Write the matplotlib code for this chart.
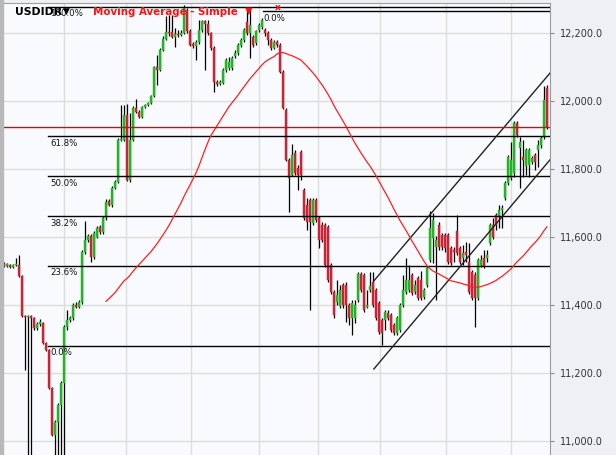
import matplotlib.pyplot as plt
import pandas as pd
from matplotlib.patches import Rectangle

# daily USD/IDR candles (oldest first)
opens = [11521, 11515, 11518, 11512, 11518, 11518, 11485, 11368, 11365, 11368,
         11362, 11332, 11344, 11347, 11288, 11268, 11156, 11018, 11056, 11106,
         11171, 11335, 11356, 11362, 11400, 11394, 11409, 11556, 11591, 11603,
         11541, 11600, 11629, 11615, 11656, 11706, 11694, 11744, 11762, 11885,
         11885, 11959, 11768, 11885, 11979, 11968, 11953, 11982, 11988, 11994,
         12015, 12100, 12091, 12150, 12182, 12203, 12203, 12188, 12197, 12194,
         12200, 12268, 12206, 12168, 12162, 12173, 12209, 12235, 12226, 12200,
         12156, 12056, 12050, 12053, 12091, 12097, 12097, 12132, 12141, 12165,
         12179, 12232, 12200, 12188, 12171, 12209, 12218, 12209, 12200, 12179,
         12156, 12173, 12165, 12085, 11973, 11827, 11782, 11847, 11803, 11850,
         11738, 11694, 11709, 11641, 11709, 11656, 11635, 11635, 11629, 11518,
         11438, 11409, 11397, 11459, 11459, 11400, 11362, 11362, 11415, 11491,
         11488, 11394, 11444, 11468, 11444, 11406, 11356, 11356, 11376, 11370,
         11341, 11318, 11326, 11400, 11438, 11444, 11488, 11438, 11479, 11474,
         11424, 11459, 11532, 11597, 11571, 11635, 11606, 11606, 11606, 11568,
         11562, 11618, 11568, 11538, 11556, 11526, 11497, 11488, 11421, 11518,
         11538, 11538, 11582, 11635, 11665, 11659, 11679, 11715, 11759, 11774,
         11788, 11935, 11862, 11835, 11809, 11812, 11821, 11841, 11856, 11871,
         11894, 12038]
highs = [11526, 11524, 11521, 11521, 11538, 11547, 11488, 11370, 11370, 11370,
         11365, 11350, 11359, 11350, 11291, 11271, 11159, 11062, 11112, 11176,
         11341, 11385, 11368, 11406, 11409, 11415, 11562, 11647, 11609, 11609,
         11618, 11632, 11635, 11662, 11712, 11712, 11750, 11768, 11891, 11988,
         11988, 11991, 11965, 11985, 12006, 11973, 11985, 11991, 11997, 12018,
         12103, 12135, 12156, 12191, 12250, 12253, 12253, 12215, 12209, 12209,
         12282, 12273, 12212, 12173, 12179, 12238, 12238, 12238, 12238, 12203,
         12162, 12062, 12062, 12097, 12126, 12129, 12132, 12150, 12171, 12185,
         12215, 12268, 12268, 12194, 12209, 12229, 12244, 12215, 12206, 12185,
         12179, 12179, 12171, 12091, 11979, 11832, 11874, 11856, 11812, 11856,
         11744, 11715, 11715, 11715, 11715, 11662, 11644, 11641, 11635, 11524,
         11444, 11474, 11459, 11465, 11468, 11406, 11415, 11415, 11497, 11497,
         11494, 11444, 11497, 11497, 11450, 11412, 11362, 11385, 11385, 11376,
         11347, 11368, 11406, 11488, 11538, 11518, 11494, 11474, 11485, 11500,
         11450, 11515, 11676, 11671, 11603, 11644, 11612, 11612, 11612, 11574,
         11571, 11665, 11574, 11576, 11585, 11582, 11503, 11497, 11538, 11547,
         11562, 11562, 11641, 11656, 11671, 11694, 11694, 11765, 11841, 11879,
         11941, 11941, 11894, 11885, 11862, 11862, 11838, 11847, 11885, 11897,
         12044, 12047]
lows = [11512, 11512, 11509, 11509, 11515, 11482, 11365, 11209, 10915, 10915,
        11326, 11326, 11338, 11285, 11265, 11153, 11015, 10915, 10915, 10915,
        10915, 11326, 11350, 11356, 11391, 11391, 11403, 11550, 11585, 11526,
        11535, 11597, 11609, 11609, 11650, 11691, 11688, 11741, 11759, 11882,
        11882, 11765, 11762, 11882, 11965, 11950, 11950, 11979, 11985, 11991,
        12012, 12047, 12088, 12147, 12179, 12191, 12185, 12159, 12188, 12191,
        12197, 12200, 12162, 12156, 12121, 12168, 12203, 12091, 12194, 12150,
        12026, 12044, 12047, 12050, 12085, 12091, 12091, 12126, 12135, 12159,
        12173, 12194, 12126, 12159, 12165, 12203, 12212, 12191, 12165, 12150,
        12153, 12159, 12082, 11976, 11824, 11674, 11779, 11782, 11738, 11768,
        11650, 11621, 11385, 11635, 11644, 11568, 11585, 11512, 11468, 11432,
        11362, 11400, 11391, 11391, 11350, 11341, 11312, 11347, 11409, 11438,
        11379, 11391, 11438, 11394, 11356, 11315, 11282, 11326, 11356, 11321,
        11312, 11312, 11321, 11394, 11432, 11438, 11429, 11432, 11415, 11415,
        11418, 11453, 11526, 11524, 11415, 11562, 11562, 11556, 11521, 11518,
        11526, 11547, 11521, 11518, 11526, 11432, 11415, 11335, 11415, 11512,
        11509, 11526, 11576, 11594, 11621, 11626, 11626, 11709, 11753, 11768,
        11776, 11894, 11744, 11776, 11782, 11776, 11815, 11797, 11806, 11862,
        11888, 11918]
closes = [11515, 11521, 11512, 11518, 11521, 11485, 11368, 11365, 11368, 11362,
          11332, 11344, 11350, 11288, 11268, 11156, 11018, 11056, 11106, 11171,
          11335, 11356, 11362, 11400, 11394, 11409, 11556, 11591, 11603, 11541,
          11612, 11626, 11615, 11656, 11703, 11694, 11744, 11762, 11885, 11888,
          11959, 11768, 11885, 11979, 11968, 11953, 11982, 11988, 11994, 12015,
          12100, 12091, 12150, 12182, 12203, 12200, 12188, 12197, 12194, 12200,
          12273, 12206, 12165, 12162, 12173, 12209, 12235, 12226, 12200, 12156,
          12056, 12050, 12056, 12091, 12121, 12115, 12126, 12141, 12165, 12179,
          12209, 12200, 12223, 12165, 12206, 12223, 12238, 12200, 12179, 12156,
          12173, 12165, 12085, 11979, 11827, 11774, 11841, 11788, 11782, 11782,
          11656, 11644, 11644, 11709, 11650, 11591, 11591, 11518, 11474, 11438,
          11370, 11429, 11444, 11400, 11400, 11362, 11406, 11400, 11491, 11444,
          11385, 11400, 11456, 11400, 11362, 11321, 11318, 11379, 11362, 11326,
          11318, 11362, 11400, 11444, 11474, 11474, 11435, 11459, 11421, 11421,
          11444, 11509, 11626, 11650, 11591, 11571, 11571, 11568, 11526, 11524,
          11556, 11553, 11526, 11553, 11547, 11438, 11421, 11421, 11532, 11532,
          11515, 11547, 11635, 11600, 11635, 11679, 11685, 11759, 11835, 11827,
          11935, 11900, 11879, 11827, 11856, 11856, 11832, 11821, 11871, 11891,
          12003, 11923]

# simple moving average settings (50 days, line shown from day 35)
ma_period = 50
ma_min_periods = 35

# trend channel
chan_idx = [123.3, 182]
chan_upper = [11471, 12082]
chan_lower = [11212, 11827]

# fibonacci retracement
fib_low, fib_high = 11280, 12276
fib_pcts = [0.0, 23.6, 38.2, 50.0, 61.8, 100.0]
fib_start = 14.7
fib2_level, fib2_start = 12265, 86.3

last_price = 11923
yticks = [11000, 11200, 11400, 11600, 11800, 12000, 12200]
grid_idx = [20, 40.7, 62.3, 85, 104.7, 125.3, 147.3, 169]

W, H = 616, 455
fig = plt.figure(figsize=(W / 100, H / 100), dpi=100, facecolor='#eef0f4')
ax = fig.add_axes([3 / W, 0, 547 / W, 452 / H])
ax.set_facecolor('#f8fafd')

n = len(closes)
idx = list(range(n))
green, red = '#22b522', '#cc2233'
cols = [green if c >= o else red for o, c in zip(opens, closes)]
bottoms = [min(o, c) for o, c in zip(opens, closes)]
heights = [max(abs(c - o), 3) for o, c in zip(opens, closes)]

ax.set_xlim(-0.33, 182)
ax.set_ylim(10959, 12288)

for g in grid_idx:
    ax.axvline(g, color='#dddddd', lw=1, zorder=0)
for t in yticks:
    ax.axhline(t, color='#dddddd', lw=1, zorder=0)

ax.vlines(idx, lows, highs, color='black', lw=0.9, zorder=2)
ax.bar(idx, heights, bottom=bottoms, width=0.72, color=cols, edgecolor=cols,
       lw=0.3, zorder=3)

# fib lines + labels
for p in fib_pcts:
    lvl = fib_low + (fib_high - fib_low) * p / 100
    ax.plot([fib_start, 182], [lvl, lvl], color='black', lw=1, zorder=4)
    ax.text(fib_start + 0.8, lvl - 7, f'{p:.1f}%', fontsize=6.2, va='top',
            ha='left', color='#111111', zorder=5)
ax.plot([fib2_start, 182], [fib2_level, fib2_level], color='black', lw=1, zorder=4)
ax.text(fib2_start + 0.3, fib2_level - 9, '0.0%', fontsize=6.2, va='top',
        ha='left', color='#111111', zorder=5)

ax.plot(chan_idx, chan_upper, color='#222222', lw=1, zorder=4)
ax.plot(chan_idx, chan_lower, color='#222222', lw=1, zorder=4)

sma = pd.Series(closes).rolling(ma_period, min_periods=ma_min_periods).mean()
ax.plot(idx, sma, color='#ff2020', lw=0.9, zorder=4)
ax.axhline(last_price, color='#ee0000', lw=1, zorder=4)

ax.yaxis.tick_right()
ax.set_yticks(yticks)
ax.set_yticklabels([f'{t:,.1f}' for t in yticks])
ax.tick_params(axis='y', length=3, width=0.8, color='#888888', labelcolor='#333333',
               labelsize=7, pad=4)
ax.set_xticks([])
for s in ['left', 'bottom']:
    ax.spines[s].set_visible(False)
ax.spines['right'].set_color('#9a9a9a')
ax.spines['top'].set_color('#a0a0a0')

# left border strip
fig.patches.append(Rectangle((0, 0), 3 / W, 1, transform=fig.transFigure,
                             color='#b8b8b8', zorder=0))

# header texts
fig.text(15 / W, 1 - 12 / H, 'USDIDR', fontsize=7.8, fontweight='bold',
         color='black', va='center', ha='left')
fig.text(63 / W, 1 - 11 / H, '▼', fontsize=6.5, color='black', va='center', ha='left')
fig.text(93 / W, 1 - 12 / H, 'Moving Average - Simple', fontsize=7.4,
         fontweight='bold', color='#ff1010', va='center', ha='left')
fig.text(245 / W, 1 - 11 / H, '▼', fontsize=7, color='#ff1010', va='center', ha='left')
fig.text(275 / W, 1 - 8 / H, 'x', fontsize=6.5, fontweight='bold', color='#ff1010',
         va='center', ha='left')

fig.savefig('out.png', dpi=100, facecolor=fig.get_facecolor())
